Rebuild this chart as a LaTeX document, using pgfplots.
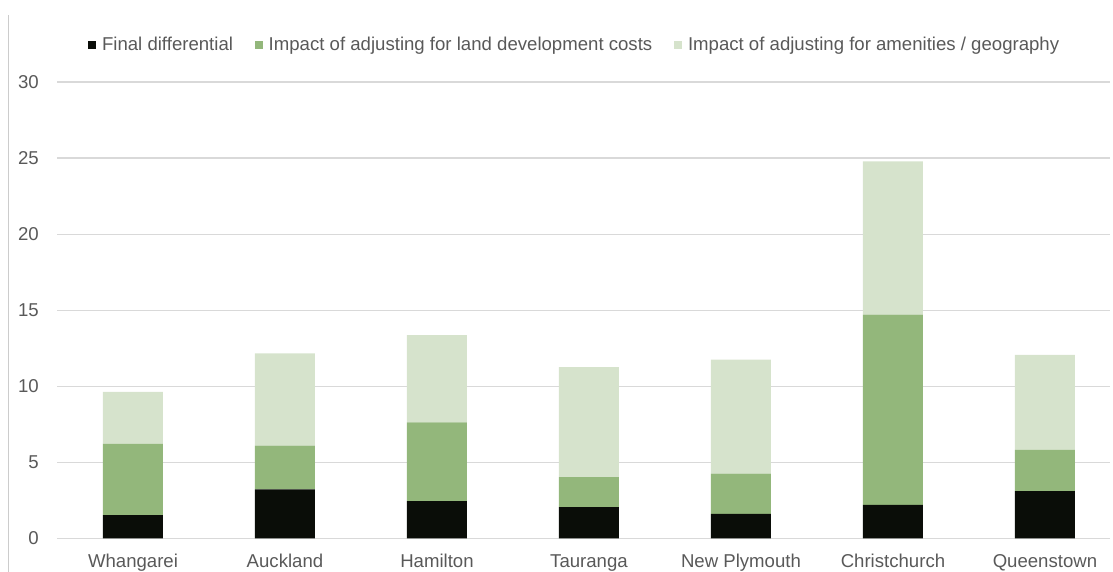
\documentclass[border=0pt]{standalone}
\usepackage{pgfplots}
\usepackage{pgfplotstable}
\usepackage{fontspec}
\setmainfont{Liberation Sans}
\pgfplotsset{compat=1.18}
\definecolor{cblack}{HTML}{0A0D08}
\definecolor{cgreen}{HTML}{93B77B}
\definecolor{clight}{HTML}{D6E3CC}
\definecolor{ctext}{HTML}{595959}
\definecolor{cgrid}{HTML}{D9D9D9}
\pgfplotstableread{
x black green light
0 1.54 4.68 3.42
1 3.22 2.89 6.06
2 2.45 5.18 5.74
3 2.06 1.98 7.23
4 1.62 2.64 7.49
5 2.21 12.51 10.06
6 3.12 2.71 6.24
}\datatable
\begin{document}
\begin{tikzpicture}
\useasboundingbox (-28.5pt,-16.75pt) rectangle (528pt,269.25pt);
\draw[color=gray!40, line width=0.6pt] (-24.25pt,-16.75pt) -- (-24.25pt,261.75pt);
\begin{axis}[
  at={(0,0)}, anchor=south west,
  scale only axis,
  width=526.5pt, height=228.25pt,
  xmin=-0.5, xmax=6.428,
  ymin=0, ymax=30,
  ytick={0,5,...,30},
  xtick={0,...,6},
  xticklabels={Whangarei,Auckland,Hamilton,Tauranga,New Plymouth,Christchurch,Queenstown},
  ybar stacked,
  bar width=30pt,
  axis line style={draw=none},
  major tick length=0pt,
  ymajorgrids,
  grid style={color=cgrid, line width=0.6pt},
  tick label style={font=\fontsize{9.3}{11}\selectfont, text=ctext},
  /pgf/number format/assume math mode=true,
  xticklabel style={yshift=-4pt, text height=7pt, text depth=2pt},
  yticklabel style={xshift=-5.6pt},
  legend columns=-1,
  legend style={draw=none, fill=none, at={(0.0294,1.081)}, anchor=west,
    font=\fontsize{9.3}{11}\selectfont, text=ctext,
    nodes={inner sep=0pt},
    column sep=2.85pt, inner sep=0pt,
    /tikz/every even column/.append style={column sep=11pt}},
  legend image code/.code={\fill[#1] (0pt,-2pt) rectangle (4pt,2pt);},
]
\addplot[fill=cblack, draw=none] table[x=x, y=black] {\datatable};
\addplot[fill=cgreen, draw=none] table[x=x, y=green] {\datatable};
\addplot[fill=clight, draw=none] table[x=x, y=light] {\datatable};
\legend{Final differential, Impact of adjusting for land development costs, Impact of adjusting for amenities / geography}
\end{axis}
\end{tikzpicture}
\end{document}
